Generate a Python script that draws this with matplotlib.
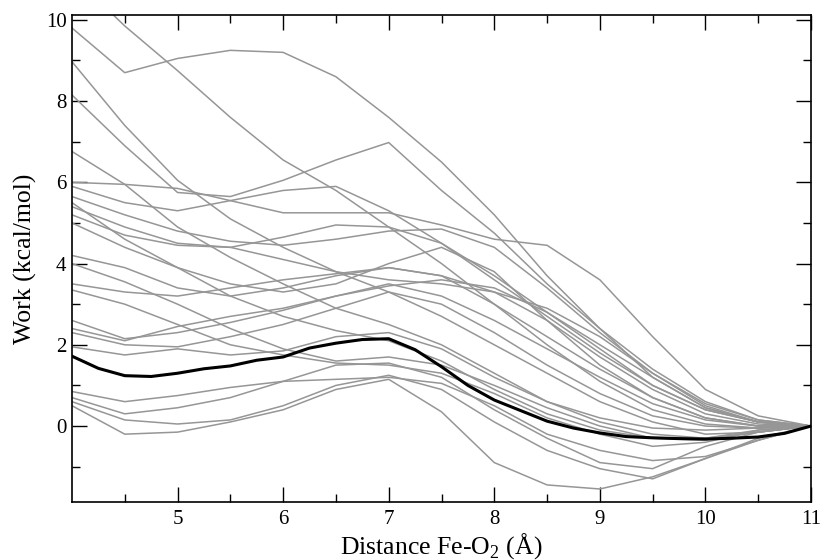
import numpy as np
import matplotlib
matplotlib.use("Agg")
import matplotlib.pyplot as plt

plt.rcParams['font.family'] = ['Liberation Serif', 'DejaVu Serif']
plt.rcParams['mathtext.fontset'] = 'custom'
plt.rcParams['mathtext.rm'] = 'Liberation Serif'

# distance grid for the individual pulling runs (Angstrom)
dist = [4.0, 4.5, 5.0, 5.5, 6.0, 6.5, 7.0, 7.5, 8.0, 8.5, 9.0, 9.5, 10.0, 10.5, 11.0]

# work profiles of the individual runs (kcal/mol)
run01 = [9.8, 8.7, 9.05, 9.25, 9.2, 8.6, 7.6, 6.5, 5.2, 3.7, 2.4, 1.2, 0.45, 0.1, 0.0]
run02 = [11.1, 9.85, 8.75, 7.6, 6.55, 5.8, 4.9, 4.0, 3.0, 2.0, 1.1, 0.4, 0.05, -0.05, 0.0]
run03 = [8.15, 6.9, 5.75, 5.65, 6.05, 6.55, 6.98, 5.8, 4.75, 3.5, 2.4, 1.4, 0.6, 0.15, 0.0]
run04 = [8.97, 7.4, 6.05, 5.1, 4.4, 3.8, 3.3, 2.7, 2.0, 1.3, 0.6, 0.1, -0.2, -0.15, 0.0]
run05 = [6.76, 5.95, 4.9, 4.15, 3.5, 2.9, 2.5, 2.0, 1.3, 0.6, 0.1, -0.2, -0.3, -0.15, 0.0]
run06 = [6.0, 5.95, 5.85, 5.55, 5.25, 5.25, 5.25, 4.95, 4.6, 4.45, 3.6, 2.2, 0.9, 0.25, 0.0]
run07 = [5.9, 5.5, 5.3, 5.55, 5.8, 5.9, 5.3, 4.5, 3.6, 2.7, 1.8, 1.0, 0.4, 0.1, 0.0]
run08 = [5.65, 5.2, 4.8, 4.55, 4.45, 4.6, 4.8, 4.85, 4.4, 3.4, 2.3, 1.3, 0.55, 0.15, 0.0]
run09 = [5.4, 4.9, 4.5, 4.4, 4.65, 4.95, 4.9, 4.5, 3.7, 2.8, 1.9, 1.0, 0.4, 0.1, 0.0]
run10 = [5.2, 4.7, 4.45, 4.4, 4.1, 3.8, 3.6, 3.5, 3.3, 2.9, 2.2, 1.3, 0.5, 0.1, 0.0]
run11 = [5.0, 4.4, 3.9, 3.5, 3.3, 3.5, 4.0, 4.4, 3.8, 2.6, 1.5, 0.7, 0.2, 0.0, 0.0]
run12 = [4.2, 3.9, 3.4, 3.2, 3.4, 3.7, 3.9, 3.7, 3.0, 2.2, 1.4, 0.7, 0.2, 0.0, 0.0]
run13 = [4.0, 3.55, 3.0, 2.4, 1.9, 1.6, 1.7, 1.5, 1.0, 0.45, 0.0, -0.3, -0.35, -0.15, 0.0]
run14 = [3.35, 3.0, 2.5, 2.0, 1.75, 1.55, 1.5, 1.3, 0.8, 0.2, -0.2, -0.5, -0.4, -0.1, 0.0]
run15 = [3.5, 3.3, 3.2, 3.4, 3.6, 3.75, 3.9, 3.7, 3.3, 2.6, 1.7, 0.9, 0.3, 0.05, 0.0]
run16 = [2.6, 2.15, 2.3, 2.55, 2.85, 3.2, 3.5, 3.2, 2.6, 1.9, 1.2, 0.55, 0.15, 0.0, 0.0]
run17 = [2.3, 2.0, 1.95, 2.2, 2.5, 2.9, 3.3, 3.0, 2.3, 1.5, 0.8, 0.25, 0.0, -0.05, 0.0]
run18 = [2.4, 2.1, 2.45, 2.7, 2.9, 3.2, 3.45, 3.6, 3.4, 2.8, 2.0, 1.2, 0.45, 0.1, 0.0]
run19 = [0.85, 0.6, 0.75, 0.95, 1.1, 1.15, 1.2, 1.05, 0.5, -0.2, -0.6, -0.85, -0.75, -0.35, 0.0]
run20 = [0.7, 0.3, 0.45, 0.7, 1.1, 1.5, 1.55, 1.2, 0.4, -0.3, -0.9, -1.05, -0.5, -0.15, 0.0]
run21 = [0.6, 0.15, 0.05, 0.15, 0.5, 1.0, 1.25, 0.9, 0.1, -0.6, -1.05, -1.3, -0.8, -0.3, 0.0]
run22 = [0.5, -0.2, -0.15, 0.1, 0.4, 0.9, 1.15, 0.35, -0.9, -1.45, -1.55, -1.25, -0.8, -0.35, 0.0]
run23 = [1.95, 1.75, 1.9, 1.75, 1.85, 2.2, 2.3, 1.9, 1.2, 0.6, 0.2, -0.05, -0.1, -0.05, 0.0]
run24 = [5.5, 4.6, 3.9, 3.2, 2.7, 2.35, 2.1, 1.6, 0.9, 0.3, -0.1, -0.3, -0.3, -0.1, 0.0]

runs = [run01, run02, run03, run04, run05, run06, run07, run08, run09, run10, run11, run12,
        run13, run14, run15, run16, run17, run18, run19, run20, run21, run22, run23, run24]

# averaged work profile (black curve)
dist_avg = [4.0, 4.25, 4.5, 4.75, 5.0, 5.25, 5.5, 5.75, 6.0, 6.25, 6.5, 6.75, 7.0, 7.25, 7.5,
            7.75, 8.0, 8.25, 8.5, 8.75, 9.0, 9.25, 9.5, 9.75, 10.0, 10.25, 10.5, 10.75, 11.0]
work_avg = [1.72, 1.42, 1.24, 1.22, 1.30, 1.41, 1.48, 1.62, 1.70, 1.92, 2.04, 2.13, 2.15, 1.88, 1.46,
            1.00, 0.64, 0.38, 0.12, -0.05, -0.17, -0.26, -0.29, -0.31, -0.32, -0.30, -0.27, -0.18, 0.0]

fig = plt.figure(figsize=(8.38, 5.6), dpi=100)
ax = fig.add_axes([0.0859, 0.1036, 0.8819, 0.8696])

for r in runs:
    ax.plot(dist, r, color='#969696', linewidth=1.1)
ax.plot(dist_avg, work_avg, color='black', linewidth=2.2)

ax.set_xlim(4, 11)
ax.set_ylim(-1.87, 10.12)
ax.set_xticks(np.arange(5, 12, 1))
ax.set_xticks(np.arange(4.5, 11, 1), minor=True)
ax.set_yticks(np.arange(0, 11, 2))
ax.set_yticks(np.arange(-1, 10, 2), minor=True)

ax.tick_params(which='both', direction='in', top=True, right=True, labelsize=15, width=1.0)
ax.tick_params(which='major', length=11)
ax.tick_params(which='minor', length=5.5)
ax.tick_params(axis='x', pad=6)
ax.tick_params(axis='y', pad=4)
for s in ax.spines.values():
    s.set_linewidth(1.2)

ax.set_xlabel(r'Distance Fe-O$_\mathrm{2}$ (Å)', fontsize=18.5, labelpad=1)
ax.set_ylabel('Work (kcal/mol)', fontsize=18.5, labelpad=6)

fig.savefig('out.png', dpi=100)
